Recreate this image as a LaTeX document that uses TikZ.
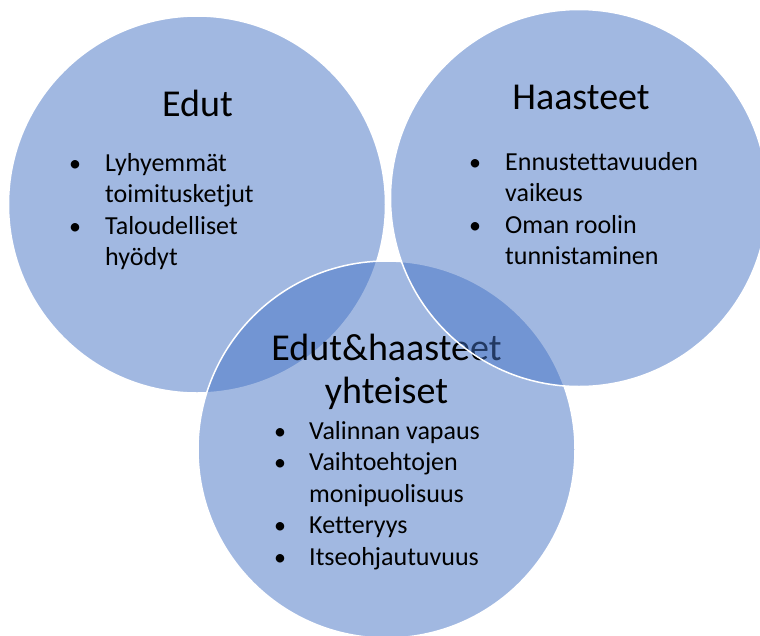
\documentclass[tikz,border=0pt]{standalone}
\usepackage{fontspec}
\setmainfont{Carlito}[Ligatures=NoCommon]
\usepackage{tikz}
\definecolor{vennblue}{HTML}{4472C4}

\begin{document}
\begin{tikzpicture}[x=1pt, y=-1pt,
    venn/.style={circle, fill=vennblue, fill opacity=0.5, draw=white, line width=1.5pt, minimum size=377pt, inner sep=0pt},
    title/.style={font=\fontsize{38}{43}\selectfont, inner sep=0pt, anchor=base},
    item/.style={font=\fontsize{26}{31.5}\selectfont, inner sep=0pt, anchor=base west},
    dot/.style={font=\fontsize{24}{31.5}\selectfont, inner sep=0pt, anchor=base}]
    \useasboundingbox (0,0) rectangle (760,635);

    % draw left circle
    \node[venn] (edut) at (197,204.5) {};
    \node[title] (edut-title) at (197.5,116) {Edut};
    \foreach \y/\txt [count=\i] in {171/Lyhyemmät, 202.5/toimitusketjut, 234/Taloudelliset, 265.5/hyödyt}
      \node[item] (edut-\i) at (105,\y) {\txt};
    \foreach \y [count=\i] in {171,234}
      \node[dot] (edut-dot-\i) at (75,\y) {•};

    % draw bottom circle
    \node[venn] (yht) at (386.5,449.5) {};
    \node[title] (yht-title) at (386.5,360) {Edut\&haasteet};
    \node[title] (yht-title2) at (386.5,403) {yhteiset};
    \foreach \y/\txt [count=\i] in {439/Valinnan vapaus, 470.5/Vaihtoehtojen, 502/monipuolisuus, 533.5/Ketteryys, 565/Itseohjautuvuus}
      \node[item] (yht-\i) at (309,\y) {\txt};
    \foreach \y [count=\i] in {439,470.5,533.5,565}
      \node[dot] (yht-dot-\i) at (280,\y) {•};

    % draw right circle
    \node[venn] (haas) at (579,198) {};
    \node[title] (haas-title) at (581,109) {Haasteet};
    \foreach \y/\txt [count=\i] in {170/Ennustettavuuden, 201.5/vaikeus, 233/Oman roolin, 264.5/tunnistaminen}
      \node[item] (haas-\i) at (505,\y) {\txt};
    \foreach \y [count=\i] in {170,233}
      \node[dot] (haas-dot-\i) at (475,\y) {•};
\end{tikzpicture}
\end{document}
